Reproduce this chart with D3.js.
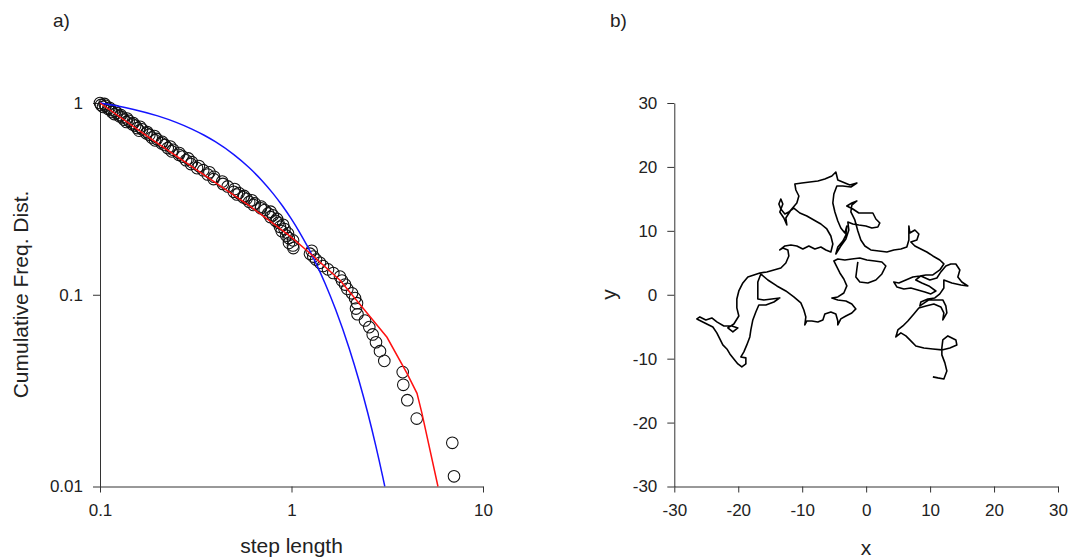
<!DOCTYPE html>
<html><head><meta charset="utf-8">
<script src="https://cdn.jsdelivr.net/npm/d3@7"></script>
<style>
body{margin:0;background:#fff}
svg{display:block}
text{font-family:"Liberation Sans",Arial,sans-serif;fill:#222}
</style>
</head><body><svg id="c" width="1085" height="560"></svg>
<script>
// ---------- Panel a) data ----------
const stepLength = [0.1000,0.1056,0.1012,0.1068,0.1037,0.1121,0.1101,0.1137,0.1202,0.1154,0.1221,0.1188,0.1286,0.1266,0.1309,0.1385,0.1333,0.1412,0.1375,0.1494,0.1475,0.1527,0.1620,0.1562,0.1659,0.1600,0.1764,0.1745,0.1811,0.1926,0.1862,0.1980,0.1940,0.2115,0.2097,0.2182,0.2328,0.2257,0.2411,0.2368,0.2595,0.2582,0.2700,0.2891,0.2815,0.3022,0.2982,0.3284,0.3210,0.3459,0.3726,0.3651,0.3943,0.3919,0.4346,0.4383,0.4643,0.5051,0.4996,0.5305,0.5192,0.5655,0.5601,0.5821,0.6204,0.6013,0.6432,0.6332,0.6948,0.6922,0.7246,0.7778,0.7557,0.7987,0.7760,0.8400,0.8270,0.8543,0.9040,0.8699,0.9194,0.8889,0.9588,0.9394,0.9669,1.019,0.9704,1.018,1.022,1.275,1.249,1.300,1.343,1.409,1.460,1.551,1.653,1.792,1.835,1.903,1.956,2.070,2.146,2.198,2.172,2.211,2.420,2.548,2.655,2.762,2.898,3.052,3.808,3.835,4.025,4.507,6.914,7.057];
const cumFreq = [1.0000,0.9887,0.9774,0.9661,0.9548,0.9435,0.9322,0.9209,0.9096,0.8983,0.8870,0.8757,0.8644,0.8531,0.8418,0.8305,0.8192,0.8079,0.7966,0.7853,0.7740,0.7627,0.7514,0.7401,0.7288,0.7175,0.7062,0.6949,0.6836,0.6723,0.6610,0.6497,0.6384,0.6271,0.6158,0.6045,0.5932,0.5819,0.5706,0.5593,0.5480,0.5367,0.5254,0.5141,0.5028,0.4915,0.4802,0.4689,0.4576,0.4463,0.4350,0.4237,0.4124,0.4011,0.3898,0.3785,0.3672,0.3559,0.3446,0.3390,0.3333,0.3277,0.3220,0.3164,0.3107,0.3051,0.2994,0.2938,0.2881,0.2825,0.2768,0.2712,0.2655,0.2599,0.2542,0.2486,0.2429,0.2373,0.2316,0.2260,0.2203,0.2147,0.2090,0.2034,0.1977,0.1921,0.1864,0.1808,0.1751,0.1695,0.1638,0.1582,0.1525,0.1469,0.1412,0.1356,0.1299,0.1243,0.1186,0.1130,0.1073,0.1017,0.0960,0.0904,0.0847,0.0791,0.0734,0.0678,0.0621,0.0565,0.0508,0.0452,0.0395,0.0339,0.0282,0.0226,0.0169,0.0113];
const blueX = [0.1,0.12,0.15,0.2,0.25,0.3,0.35,0.4,0.5,0.6,0.7,0.8,0.9,1.0,1.1,1.2,1.35,1.5,1.7,2.0,2.25,2.5,2.75,3.0,3.07];
const blueY = [1.0,0.9695,0.9254,0.8564,0.7926,0.7334,0.6788,0.6282,0.5379,0.4607,0.3946,0.3379,0.2894,0.2478,0.2122,0.1818,0.1441,0.1142,0.0837,0.0526,0.0357,0.02424,0.01645,0.01116,0.01001];
const redX = [0.1,0.1824,0.3328,0.6072,0.9822,1.249,1.792,2.665,3.152,4.01,4.523,4.80,5.82];
const redY = [1.0,0.6566,0.4362,0.2899,0.2020,0.1647,0.119,0.0736,0.060,0.0389,0.0306,0.02405,0.01];
const ticksAx = [0.1,1,10];
const ticksAy = [0.01,0.1,1];

// ---------- Panel b) data (x, y of the walk) ----------
const walk = [
[10.43,-12.85],[11.21,-13.01],[12.15,-13.17],[12.62,-11.92],[12.31,-10.66],[11.84,-9.41],[11.84,-8.32],[11.99,-7.07],[12.78,-6.44],[14.03,-7.07],[14.18,-7.85],[13.09,-8.32],[11.84,-8.63],[10.43,-8.48],[9.02,-8.32],[7.77,-8.01],[6.99,-7.22],[6.21,-6.44],[5.43,-5.97],[4.64,-6.60],[4.96,-5.50],[5.74,-4.88],[6.52,-4.10],[7.46,-3.00],[8.24,-2.06],[9.34,-1.75],[10.59,-1.44],[11.68,-1.91],[12.15,-2.85],[11.99,-3.94],[12.62,-2.85],[12.46,-1.75],[11.99,-0.81],[11.06,-0.81],[9.80,-0.81],[8.40,-1.75],[8.55,-1.13],[9.65,-0.66],[10.74,-0.50],[11.52,0.13],[12.15,1.06],[12.15,2.31],[13.40,1.85],[14.81,1.53],[15.90,1.38],[14.96,2.00],[14.34,2.78],[14.65,3.88],[14.03,4.82],[13.24,4.82],[12.46,4.50],[11.68,3.57],[11.06,2.63],[9.96,2.31],[8.55,2.94],[7.77,2.31],[8.71,1.85],[9.80,1.38],[10.90,0.59],[10.12,0.13],[9.18,0.44],[8.08,0.75],[6.99,1.06],[5.90,0.91],[4.80,1.22],[4.33,2.00],[5.11,1.85],[6.21,2.31],[7.30,2.78],[8.40,2.94],[9.34,3.10],[10.43,3.10],[11.52,3.88],[12.15,4.82],[11.52,5.44],[10.43,6.07],[9.49,6.69],[8.55,7.16],[7.62,7.63],[6.99,8.26],[7.93,8.57],[8.24,9.51],[7.62,10.13],[6.83,9.66],[6.68,10.76],[6.68,9.66],[6.68,8.57],[6.36,7.47],[5.43,7.16],[4.33,7.01],[3.24,6.69],[1.99,6.85],[0.73,7.01],[-0.20,7.63],[-0.83,8.57],[-1.30,9.98],[-1.77,11.70],[-2.39,12.95],[-2.24,14.04],[-1.45,14.67],[-2.24,14.35],[-3.02,13.89],[-2.08,13.42],[-1.14,12.79],[-0.05,12.79],[1.05,12.79],[1.52,11.85],[2.14,11.23],[1.83,10.60],[0.89,10.45],[-0.05,10.76],[-1.14,10.91],[-2.08,11.07],[-2.86,11.38],[-2.71,10.13],[-3.17,8.73],[-3.96,7.63],[-4.74,6.38],
[-4.43,7.47],[-3.64,8.41],[-3.17,9.35],[-3.02,10.76],[-3.33,9.66],[-3.96,10.45],[-4.43,11.54],[-4.89,12.95],[-5.21,14.35],[-5.05,15.76],[-4.58,17.01],[-3.64,17.01],[-2.39,16.86],[-1.45,17.48],[-2.55,17.17],[-4.43,17.95],[-4.74,19.20],[-5.36,18.58],[-6.46,18.11],[-7.55,17.80],[-8.80,17.64],[-10.05,17.48],[-11.15,17.33],[-10.99,16.39],[-10.52,15.45],[-10.84,14.35],[-11.77,13.26],[-12.56,12.01],[-12.40,10.91],[-12.87,12.01],[-13.50,12.95],[-13.03,14.20],[-13.34,14.98],[-13.65,14.20],[-13.34,13.42],[-12.71,12.63],[-12.09,12.95],[-11.31,13.57],[-10.37,12.79],[-9.27,12.32],[-8.18,11.70],[-7.08,11.07],[-6.15,10.29],[-5.52,9.19],[-5.21,7.94],[-5.52,6.69],
[-6.30,7.01],[-7.08,7.47],[-8.02,7.16],[-8.96,7.63],[-9.90,7.16],[-10.84,7.63],[-11.77,7.79],[-12.71,7.63],[-13.50,7.01],[-13.03,7.32],[-12.24,7.01],[-12.09,6.07],[-12.56,4.97],[-13.34,4.19],[-14.43,3.88],[-15.53,3.57],[-16.62,3.41],
[-17.56,3.10],[-18.50,2.78],[-19.28,1.85],[-19.91,0.59],[-20.22,-0.66],[-20.22,-2.06],[-19.91,-3.32],[-20.69,-4.57],[-21.63,-5.19],[-20.84,-5.82],[-20.06,-5.19],[-21.00,-4.88],[-22.25,-4.88],[-23.35,-4.25],[-24.13,-3.63],[-25.07,-3.94],[-26.00,-3.47],[-26.47,-3.78],[-25.54,-4.25],[-24.60,-4.72],[-23.97,-5.04],[-23.35,-5.97],[-22.88,-6.91],[-22.41,-7.85],[-21.78,-8.48],[-21.31,-9.26],[-20.69,-10.04],[-20.06,-10.82],[-19.44,-11.29],[-18.81,-10.82],[-18.81,-9.88],[-19.59,-9.73],[-19.12,-8.94],[-18.66,-7.85],[-18.19,-6.60],[-18.03,-5.50],[-17.72,-3.94],[-17.25,-2.69],[-16.78,-1.60],[-15.68,-1.60],[-14.43,-1.13],[-13.50,-0.50],[-14.75,-0.66],[-16.00,-0.81],[-16.94,-0.66],[-16.94,0.75],[-16.94,2.00],[-16.47,3.25],
[-15.37,2.31],[-13.96,1.38],[-12.56,0.59],[-11.31,-0.34],[-10.21,-1.28],[-9.74,-2.38],[-9.43,-3.47],[-9.59,-4.72],[-9.27,-4.10],[-8.49,-4.10],[-7.55,-4.25],[-6.77,-3.94],[-6.46,-3.00],[-5.52,-2.69],[-4.74,-3.00],[-4.43,-4.10],[-4.43,-4.72],[-3.96,-3.78],[-3.17,-3.32],[-2.24,-2.85],[-1.61,-2.22],[-2.24,-1.44],[-3.17,-0.97],[-4.43,-0.81],[-5.36,-0.50],[-4.43,-0.34],[-3.49,0.28],[-3.02,1.38],[-3.49,2.47],[-4.11,3.41],[-4.58,4.35],[-5.05,5.29],[-4.43,5.60],[-3.33,5.44],[-2.24,5.60],[-0.99,5.75],[0.11,5.44],[1.36,5.29],[2.46,5.13],[3.08,4.50],[2.46,3.25],[1.52,2.31],[0.27,1.85],[-0.99,2.00],[-1.61,2.78],[-1.45,4.03],[-1.30,5.13]
];
const ticksB = [-30,-20,-10,0,10,20,30];

// ---------- drawing ----------
const svg = d3.select('#c');
const FONT = '"Liberation Sans", Arial, sans-serif';
const AXC = '#333';

function styleAxis(g){
  g.attr('font-family', FONT).attr('font-size', 17);
  g.select('.domain').attr('stroke', AXC).attr('stroke-width', 1);
  g.selectAll('.tick line').attr('stroke', AXC);
  g.selectAll('.tick text').attr('fill', '#222');
}

// Panel a
const xA = d3.scaleLog().domain([0.1, 10]).range([100, 483]);
const yA = d3.scaleLog().domain([0.01, 1]).range([486.5, 103]);
const fmtA = d => String(d);

svg.append('g').attr('transform', 'translate(0,486.5)')
  .call(d3.axisBottom(xA).tickValues(ticksAx).tickFormat(fmtA).tickSize(6).tickSizeOuter(0).tickPadding(11))
  .call(styleAxis);
svg.append('g').attr('transform', 'translate(100,0)')
  .call(d3.axisLeft(yA).tickValues(ticksAy).tickFormat(fmtA).tickSize(7).tickSizeOuter(0).tickPadding(10))
  .call(styleAxis);

const pts = stepLength.map((x, i) => [x, cumFreq[i]]);
svg.append('g').selectAll('circle').data(pts).join('circle')
  .attr('cx', d => xA(d[0])).attr('cy', d => yA(d[1])).attr('r', 5.8)
  .attr('fill', 'none').attr('stroke', '#111').attr('stroke-width', 1.05);

const lineA = d3.line().x(d => xA(d[0])).y(d => yA(d[1]));
svg.append('path').datum(blueX.map((x, i) => [x, blueY[i]]))
  .attr('d', lineA.curve(d3.curveMonotoneX)).attr('fill', 'none').attr('stroke', '#1414ff').attr('stroke-width', 1.5);
svg.append('path').datum(redX.map((x, i) => [x, redY[i]]))
  .attr('d', d3.line().x(d => xA(d[0])).y(d => yA(d[1]))).attr('fill', 'none').attr('stroke', '#ff1010').attr('stroke-width', 1.5);

svg.append('text').attr('x', 53).attr('y', 27).attr('font-size', 19).text('a)');
svg.append('text').attr('x', 291.5).attr('y', 553).attr('text-anchor', 'middle').attr('font-size', 21).text('step length');
svg.append('text').attr('transform', 'translate(28,294.5) rotate(-90)').attr('text-anchor', 'middle')
  .attr('font-size', 21).text('Cumulative Freq. Dist.');

// Panel b
const xB = d3.scaleLinear().domain([-30, 30]).range([674.3, 1058]);
const yB = d3.scaleLinear().domain([-30, 30]).range([486.5, 103]);
const fmtB = d => String(d);

svg.append('g').attr('transform', 'translate(0,486.5)')
  .call(d3.axisBottom(xB).tickValues(ticksB).tickFormat(fmtB).tickSize(6).tickSizeOuter(0).tickPadding(11))
  .call(styleAxis);
svg.append('g').attr('transform', 'translate(674.3,0)')
  .call(d3.axisLeft(yB).tickValues(ticksB).tickFormat(fmtB).tickSize(7).tickSizeOuter(0).tickPadding(10))
  .call(styleAxis);

svg.append('path').datum(walk)
  .attr('d', d3.line().x(d => xB(d[0])).y(d => yB(d[1])))
  .attr('fill', 'none').attr('stroke', '#000').attr('stroke-width', 1.6).attr('stroke-linejoin', 'round');

svg.append('text').attr('x', 610).attr('y', 27).attr('font-size', 19).text('b)');
svg.append('text').attr('x', 866).attr('y', 555).attr('text-anchor', 'middle').attr('font-size', 21).text('x');
svg.append('text').attr('transform', 'translate(616,294.5) rotate(-90)').attr('text-anchor', 'middle')
  .attr('font-size', 21).text('y');
</script>
</body></html>
